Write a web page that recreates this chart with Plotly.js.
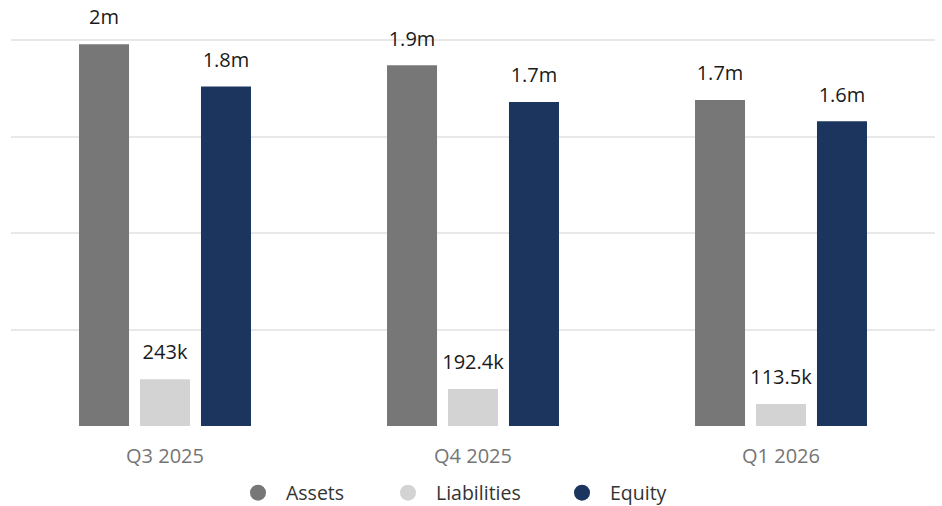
<!DOCTYPE html>
<html><head><meta charset="utf-8">
<script src="https://cdn.plot.ly/plotly-3.0.1.min.js"></script>
<style>html,body{margin:0;padding:0;background:#fff}#chart{width:942px;height:506px}</style>
</head><body><div id="chart"></div>
<script>
const categories = ['Q3 2025', 'Q4 2025', 'Q1 2026'];
const seriesNames = ['Assets', 'Liabilities', 'Equity'];
const assets = [1980000, 1870000, 1690000];
const liabilities = [243000, 192400, 113500];
const equity = [1760000, 1680000, 1580000];
const colors = ['#777777', '#d3d3d3', '#1c355e'];

function fmt(v) {
  if (v >= 1e6) return (v / 1e6).toFixed(1).replace(/\.0$/, '') + 'm';
  return (v / 1e3).toFixed(1).replace(/\.0$/, '') + 'k';
}

const seriesVals = [assets, liabilities, equity];
const groups = ['A', 'L', 'E'];
const legendIds = ['legend', 'legend2', 'legend3'];
const traces = [];
seriesVals.forEach((vals, i) => {
  traces.push({
    type: 'bar', name: seriesNames[i], x: categories, y: vals,
    marker: {color: colors[i]}, offsetgroup: groups[i], showlegend: false, hoverinfo: 'x+y+name'
  });
});
seriesVals.forEach((vals, i) => {
  traces.push({
    type: 'scatter', mode: 'markers+text', x: categories, y: vals,
    text: vals.map(fmt), textposition: 'top center',
    marker: {size: 22, opacity: 0, color: colors[i]},
    textfont: {family: 'Open Sans', size: 20, color: '#1a1a1a'},
    offsetgroup: groups[i], showlegend: false, hoverinfo: 'skip', cliponaxis: false
  });
});
seriesVals.forEach((vals, i) => {
  traces.push({
    type: 'scatter', mode: 'markers', name: seriesNames[i], x: categories, y: [null, null, null],
    marker: {color: colors[i], size: 16, symbol: 'circle'},
    offsetgroup: groups[i], showlegend: true, legend: legendIds[i]
  });
});

const legendBase = {
  orientation: 'h', xref: 'container', yref: 'container', xanchor: 'left', yanchor: 'middle',
  y: 0.0257, itemwidth: 46, bgcolor: 'rgba(0,0,0,0)',
  font: {family: 'Open Sans', size: 19.5, color: '#333333'}
};
const symbolCenters = [258, 408, 582];

const layout = {
  width: 942, height: 506,
  margin: {l: 11, r: 7, t: 21, b: 80},
  paper_bgcolor: '#ffffff', plot_bgcolor: '#ffffff',
  font: {family: 'Open Sans', color: '#333333'},
  barmode: 'group', bargap: 0.406, bargroupgap: 0.18,
  scattermode: 'group', scattergap: 0.406,
  xaxis: {type: 'category', showgrid: false, showline: false, zeroline: false, ticks: '',
          tickfont: {family: 'Open Sans', size: 20, color: '#757575'}, ticklabelstandoff: 16},
  yaxis: {range: [0, 2100000], tick0: 0, dtick: 500000, showticklabels: false, showgrid: true,
          gridcolor: '#e8e8e8', gridwidth: 2, zeroline: false},
  showlegend: true,
  legend: Object.assign({}, legendBase, {x: (symbolCenters[0] - 28) / 942}),
  legend2: Object.assign({}, legendBase, {x: (symbolCenters[1] - 28) / 942}),
  legend3: Object.assign({}, legendBase, {x: (symbolCenters[2] - 28) / 942})
};
Plotly.newPlot('chart', traces, layout, {displayModeBar: false, staticPlot: true});
</script>
</body></html>
